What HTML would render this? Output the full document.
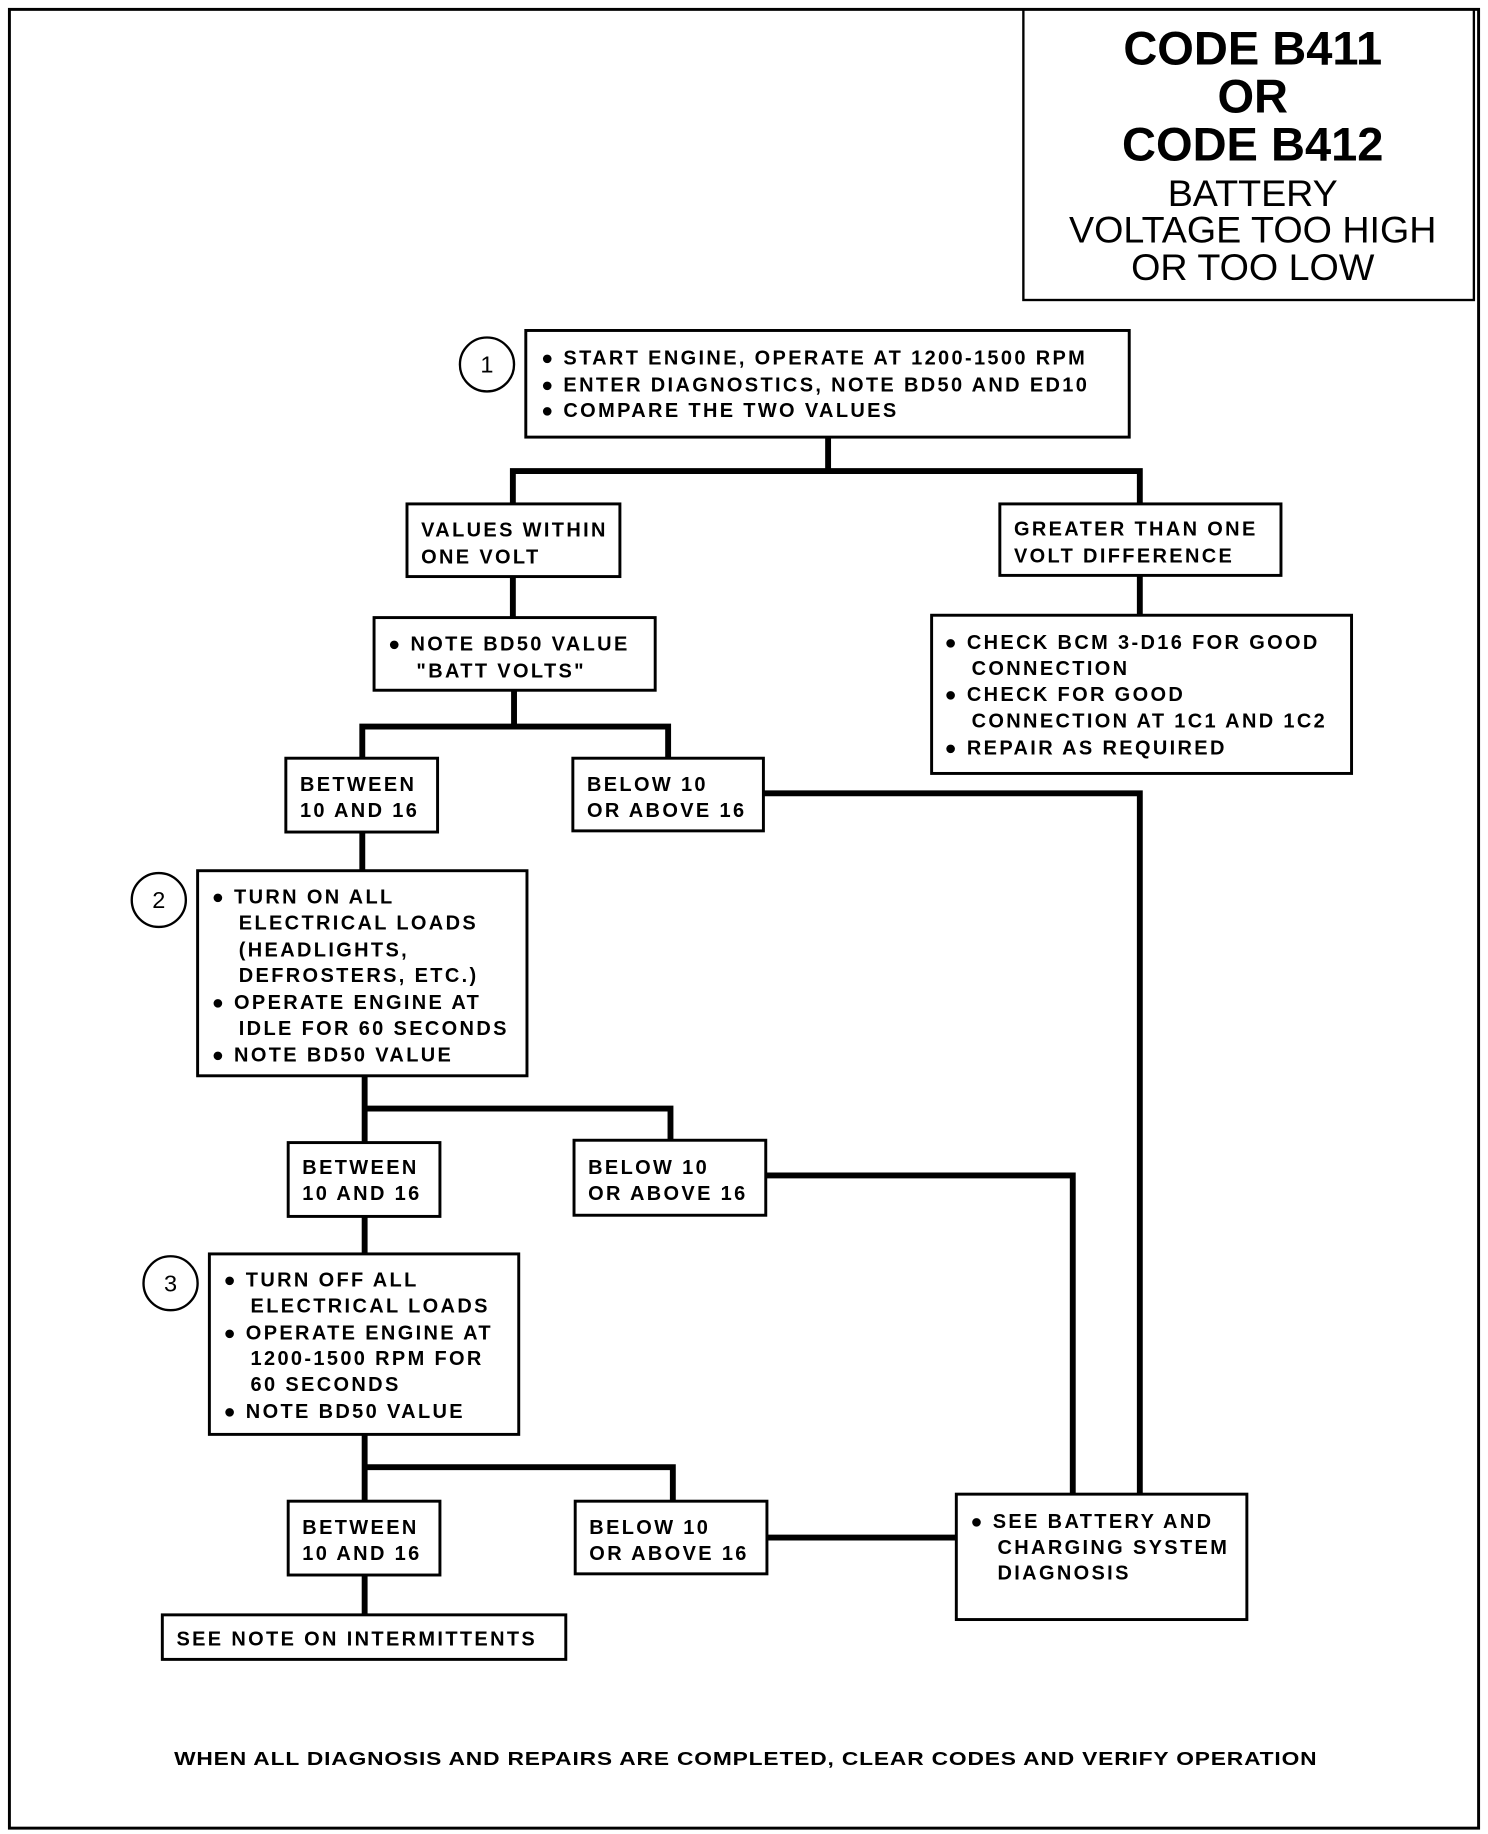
<!DOCTYPE html>
<html><head><meta charset="utf-8"><style>
html,body{margin:0;padding:0;background:#fff}
svg{display:block}
text{font-family:"Liberation Sans",Arial,sans-serif;font-weight:bold;fill:#000}
.t{font-size:17px;letter-spacing:2px}
</style></head><body>
<svg width="1488" height="1834" viewBox="0 0 1265 1565" preserveAspectRatio="none" xmlns="http://www.w3.org/2000/svg">
<g fill="none" stroke="#000">
<rect x="8" y="8" width="1249" height="1552" stroke-width="2.5"/>
<rect x="870" y="8" width="383" height="248" stroke-width="2"/>
<rect x="447" y="282" width="513" height="91" stroke-width="2.5"/>
<circle cx="414" cy="311" r="23" stroke-width="2"/>
<rect x="346" y="430" width="181" height="62" stroke-width="2.5"/>
<rect x="850" y="430" width="239" height="61" stroke-width="2.5"/>
<rect x="318" y="527" width="239" height="62" stroke-width="2.5"/>
<rect x="792" y="525" width="357" height="135" stroke-width="2.5"/>
<rect x="243" y="647" width="129" height="63" stroke-width="2.5"/>
<rect x="487" y="647" width="162" height="62" stroke-width="2.5"/>
<rect x="168" y="743" width="280" height="175" stroke-width="2.5"/>
<circle cx="135" cy="768" r="23" stroke-width="2"/>
<rect x="245" y="975" width="129" height="63" stroke-width="2.5"/>
<rect x="488" y="973" width="163" height="64" stroke-width="2.5"/>
<rect x="178" y="1070" width="263" height="154" stroke-width="2.5"/>
<circle cx="145" cy="1095" r="23" stroke-width="2"/>
<rect x="245" y="1281" width="129" height="63" stroke-width="2.5"/>
<rect x="489" y="1281" width="163" height="62" stroke-width="2.5"/>
<rect x="813" y="1275" width="247" height="107" stroke-width="2.5"/>
<rect x="138" y="1378" width="343" height="38" stroke-width="2.5"/>
</g>
<g fill="none" stroke="#000" stroke-width="5">
<path d="M704 373V402M436 430V402H969V430"/>
<path d="M436 492V527M969 491V525"/>
<path d="M437 589V620M308 647V620H568V647"/>
<path d="M649 677H969V1275"/>
<path d="M308 710V743"/>
<path d="M310 918V975M310 946H570V973"/>
<path d="M651 1003H912V1275"/>
<path d="M310 1038V1070"/>
<path d="M310 1224V1281M310 1252H572V1281"/>
<path d="M652 1312H813"/>
<path d="M310 1344V1378"/>
</g>
<g text-anchor="middle">
<text x="1065" y="55" font-size="40">CODE B411</text>
<text x="1065" y="96" font-size="40">OR</text>
<text x="1065" y="137" font-size="40">CODE B412</text>
<text x="1065" y="176" font-size="32" style="font-weight:normal">BATTERY</text>
<text x="1065" y="207" font-size="32" style="font-weight:normal">VOLTAGE TOO HIGH</text>
<text x="1065" y="239" font-size="32" style="font-weight:normal">OR TOO LOW</text>
<text x="414" y="318" font-size="20" style="font-weight:normal">1</text>
<text x="135" y="775" font-size="20" style="font-weight:normal">2</text>
<text x="145" y="1102" font-size="20" style="font-weight:normal">3</text>
</g>
<g class="t">
<text x="460" y="311">● START ENGINE, OPERATE AT 1200-1500 RPM</text>
<text x="460" y="334">● ENTER DIAGNOSTICS, NOTE BD50 AND ED10</text>
<text x="460" y="356">● COMPARE THE TWO VALUES</text>
<text x="358" y="458">VALUES WITHIN</text>
<text x="358" y="481">ONE VOLT</text>
<text x="862" y="457">GREATER THAN ONE</text>
<text x="862" y="480">VOLT DIFFERENCE</text>
<text x="330" y="555">● NOTE BD50 VALUE</text>
<text x="354" y="578">"BATT VOLTS"</text>
<text x="803" y="554">● CHECK BCM 3-D16 FOR GOOD</text>
<text x="826" y="576">CONNECTION</text>
<text x="803" y="598">● CHECK FOR GOOD</text>
<text x="826" y="621">CONNECTION AT 1C1 AND 1C2</text>
<text x="803" y="644">● REPAIR AS REQUIRED</text>
<text x="255" y="675">BETWEEN</text>
<text x="255" y="697">10 AND 16</text>
<text x="499" y="675">BELOW 10</text>
<text x="499" y="697">OR ABOVE 16</text>
<text x="180" y="771">● TURN ON ALL</text>
<text x="203" y="793">ELECTRICAL LOADS</text>
<text x="203" y="816">(HEADLIGHTS,</text>
<text x="203" y="838">DEFROSTERS, ETC.)</text>
<text x="180" y="861">● OPERATE ENGINE AT</text>
<text x="203" y="883">IDLE FOR 60 SECONDS</text>
<text x="180" y="906">● NOTE BD50 VALUE</text>
<text x="257" y="1002">BETWEEN</text>
<text x="257" y="1024">10 AND 16</text>
<text x="500" y="1002">BELOW 10</text>
<text x="500" y="1024">OR ABOVE 16</text>
<text x="190" y="1098">● TURN OFF ALL</text>
<text x="213" y="1120">ELECTRICAL LOADS</text>
<text x="190" y="1143">● OPERATE ENGINE AT</text>
<text x="213" y="1165">1200-1500 RPM FOR</text>
<text x="213" y="1187">60 SECONDS</text>
<text x="190" y="1210">● NOTE BD50 VALUE</text>
<text x="257" y="1309">BETWEEN</text>
<text x="257" y="1331">10 AND 16</text>
<text x="501" y="1309">BELOW 10</text>
<text x="501" y="1331">OR ABOVE 16</text>
<text x="825" y="1304">● SEE BATTERY AND</text>
<text x="848" y="1326">CHARGING SYSTEM</text>
<text x="848" y="1348">DIAGNOSIS</text>
<text x="150" y="1404">SEE NOTE ON INTERMITTENTS</text>
<text x="148" y="1506" font-size="16" textLength="972" lengthAdjust="spacingAndGlyphs" style="letter-spacing:0.6px">WHEN ALL DIAGNOSIS AND REPAIRS ARE COMPLETED, CLEAR CODES AND VERIFY OPERATION</text>
</g>
</svg>
</body></html>
